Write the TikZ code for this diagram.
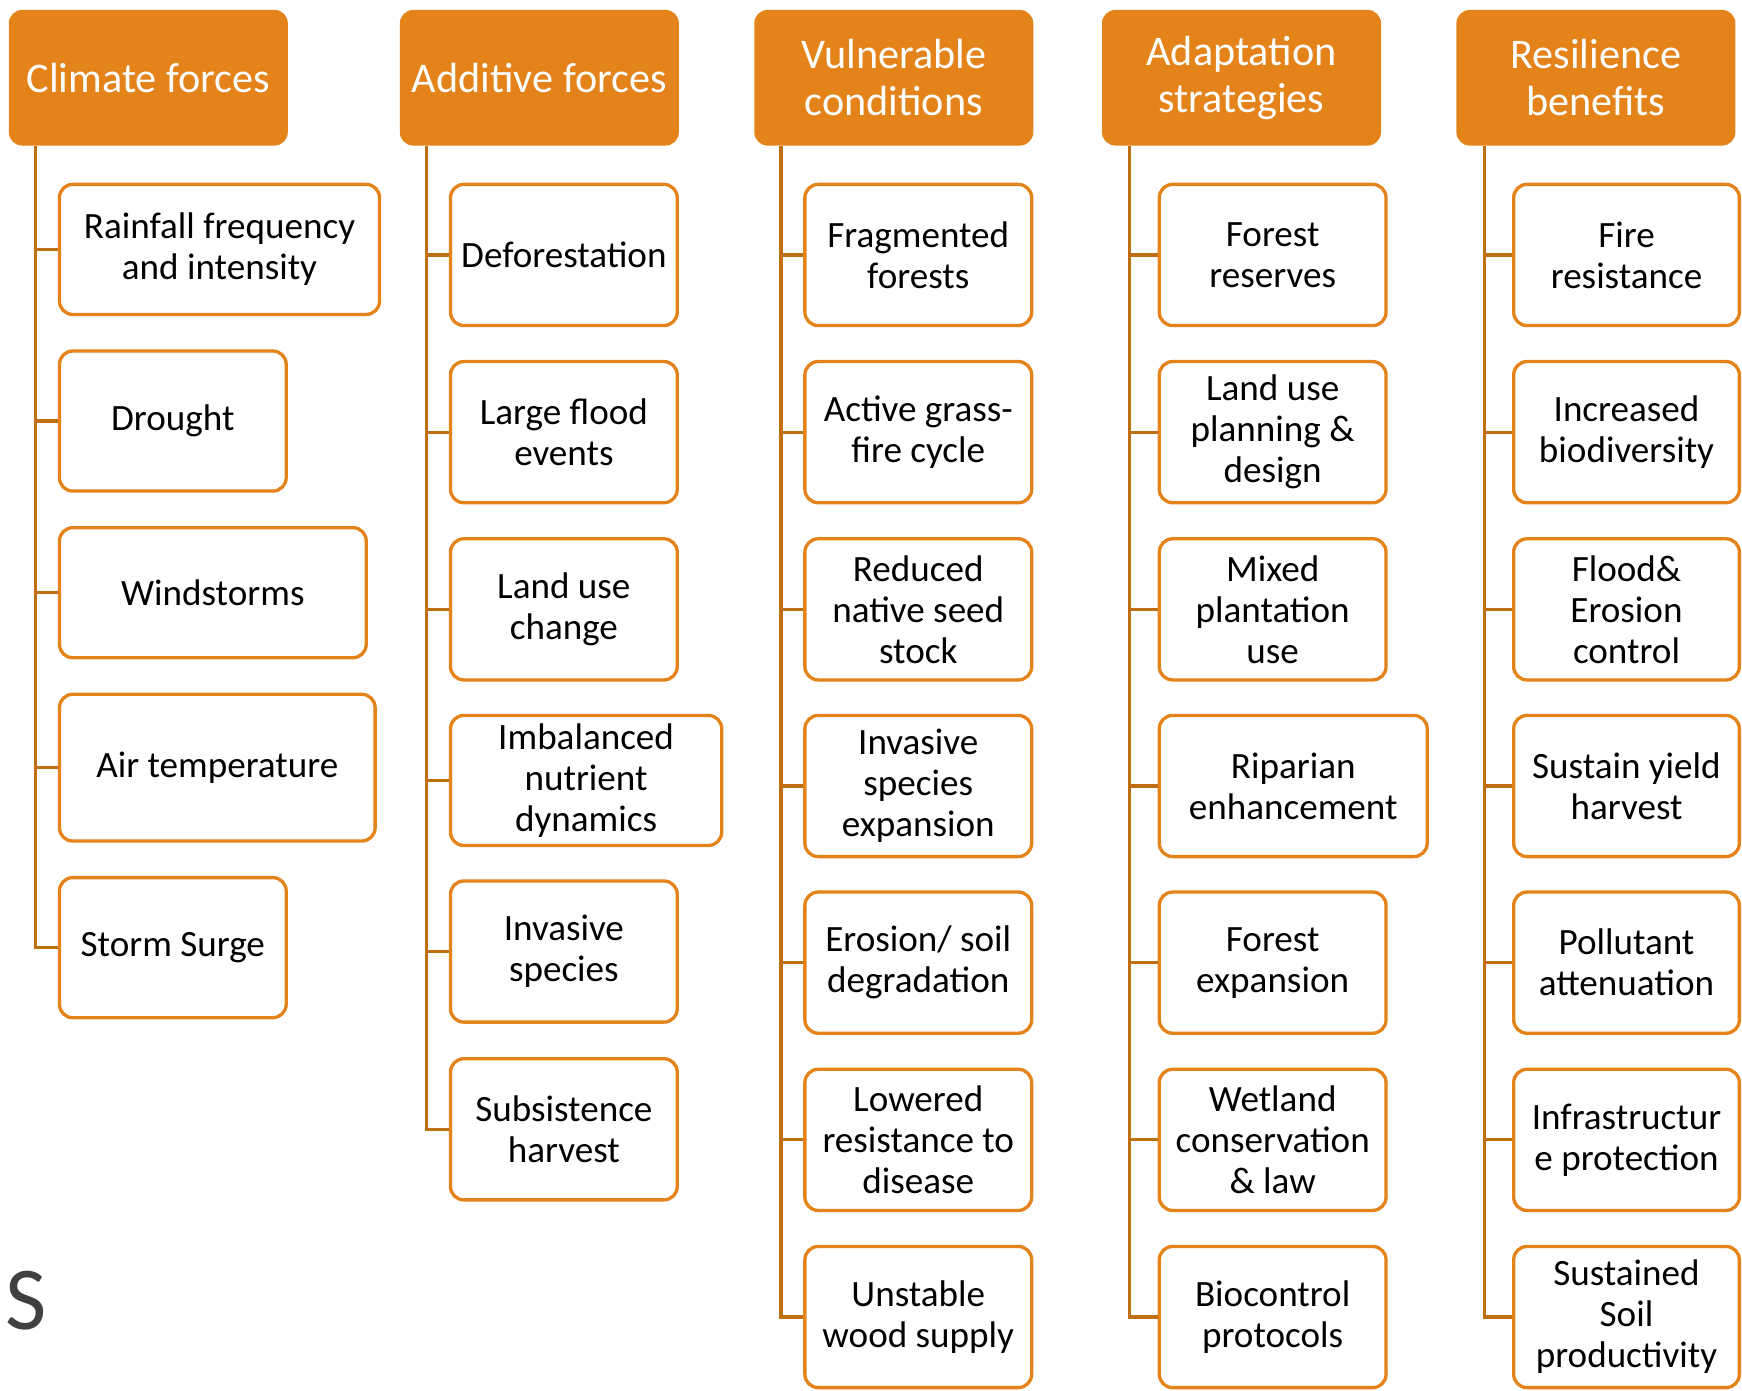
\documentclass[tikz,border=0pt]{standalone}
\usepackage{fontspec}
\setmainfont{Carlito}
\usetikzlibrary{positioning}
\usetikzlibrary{calc}
\definecolor{BarOrange}{HTML}{E3831A}
\definecolor{TrunkBrown}{HTML}{C06E12}
\definecolor{LetterGray}{HTML}{404040}
\tikzset{
  headbox/.style={shape=rectangle,rounded corners=0.12cm,fill=BarOrange,text=white,
    align=center,inner sep=0pt,minimum width=2.51cm,minimum height=1.22cm,
    font=\fontsize{10.8}{12}\selectfont},
  itembox/.style={shape=rectangle,rounded corners=0.12cm,draw=BarOrange,line width=0.85pt,
    fill=white,align=center,inner sep=0pt,anchor=west,minimum width=2.04cm,
    minimum height=1.27cm,font=\fontsize{9.5}{10.5}\selectfont},
  trunk/.style={draw=TrunkBrown,line width=0.8pt},
}

\begin{document}
\begin{tikzpicture}[x=0.01cm,y=-0.01cm]
  \useasboundingbox (0,0) rectangle (1568,1252);

  % column heads
  \node[headbox] (cf0) at (133.5,70) {Climate forces};
  \node[headbox] (af0) at (485.5,70) {Additive forces};
  \node[headbox] (vc0) at (804.5,70) {Vulnerable\\conditions};
  \node[headbox] (as0) at (1117.5,70) {Adaptation\\strategies};
  \node[headbox] (rb0) at (1436.5,70) {Resilience\\benefits};

  % climate forces
  \node[itembox,minimum width=2.88cm,minimum height=1.17cm] (cf1) at (52,224.5) {Rainfall frequency\\and intensity};
  \node[itembox,minimum height=1.26cm] (cf2) at (52,379) {Drought};
  \node[itembox,minimum width=2.76cm,minimum height=1.17cm] (cf3) at (52,533.5) {Windstorms};
  \node[itembox,minimum width=2.84cm,minimum height=1.32cm] (cf4) at (52,691) {Air temperature};
  \node[itembox,minimum height=1.26cm] (cf5) at (52,853) {Storm Surge};

  % additive forces
  \node[itembox] (af1) at (404,229.5) {Deforestation};
  \node[itembox] (af2) at (404,389) {Large flood\\events};
  \node[itembox] (af3) at (404,548.5) {Land use\\change};
  \node[itembox,minimum width=2.44cm,minimum height=1.17cm] (af4) at (404,702.5) {Imbalanced\\nutrient\\dynamics};
  \node[itembox] (af5) at (404,856.5) {Invasive\\species};
  \node[itembox] (af6) at (404,1016.5) {Subsistence\\harvest};

  % vulnerable conditions
  \node[itembox] (vc1) at (723,229.5) {Fragmented\\forests};
  \node[itembox] (vc2) at (723,389) {Active grass-\\fire cycle};
  \node[itembox] (vc3) at (723,548.5) {Reduced\\native seed\\stock};
  \node[itembox] (vc4) at (723,707.5) {Invasive\\species\\expansion};
  \node[itembox] (vc5) at (723,866.5) {Erosion/ soil\\degradation};
  \node[itembox] (vc6) at (723,1026) {Lowered\\resistance to\\disease};
  \node[itembox] (vc7) at (723,1185.5) {Unstable\\wood supply};

  % adaptation strategies
  \node[itembox] (as1) at (1042,229.5) {Forest\\reserves};
  \node[itembox] (as2) at (1042,389) {Land use\\planning \&\\design};
  \node[itembox] (as3) at (1042,548.5) {Mixed\\plantation\\use};
  \node[itembox,minimum width=2.41cm] (as4) at (1042,707.5) {Riparian\\enhancement};
  \node[itembox] (as5) at (1042,866.5) {Forest\\expansion};
  \node[itembox] (as6) at (1042,1026) {Wetland\\conservation\\\& law};
  \node[itembox] (as7) at (1042,1185.5) {Biocontrol\\protocols};

  % resilience benefits
  \node[itembox,minimum width=2.03cm] (rb1) at (1361,229.5) {Fire\\resistance};
  \node[itembox,minimum width=2.03cm] (rb2) at (1361,389) {Increased\\biodiversity};
  \node[itembox,minimum width=2.03cm] (rb3) at (1361,548.5) {Flood\&\\Erosion\\control};
  \node[itembox,minimum width=2.03cm] (rb4) at (1361,707.5) {Sustain yield\\harvest};
  \node[itembox,minimum width=2.03cm] (rb5) at (1361,866.5) {Pollutant\\attenuation};
  \node[itembox,minimum width=2.03cm] (rb6) at (1361,1026) {Infrastructur\\e protection};
  \node[itembox,minimum width=2.03cm] (rb7) at (1361,1185.5) {Sustained\\Soil\\productivity};

  % trunks
  \coordinate (cfTop) at (32,131);
  \coordinate (afTop) at (384,131);
  \coordinate (vcTop) at (703,131);
  \coordinate (asTop) at (1017,131);
  \coordinate (rbTop) at (1336,131);
  \foreach \i in {1,...,5} \draw[trunk] (cfTop) |- (cf\i.west);
  \foreach \i in {1,...,6} \draw[trunk] (afTop) |- (af\i.west);
  \foreach \c in {vc,as,rb}
    \foreach \i in {1,...,7} \draw[trunk] (\c Top) |- (\c\i.west);

  % stray letter
  \node[anchor=base west,inner sep=0pt,text=LetterGray,font=\fontsize{23}{28}\selectfont] (stray) at (4,1197) {S};

\end{tikzpicture}
\end{document}
